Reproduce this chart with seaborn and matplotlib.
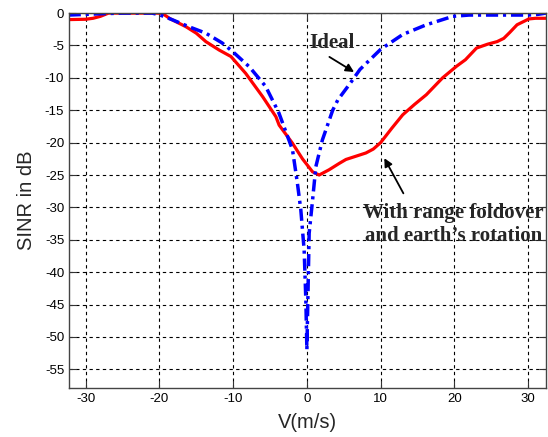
import matplotlib
matplotlib.use("Agg")
import matplotlib.pyplot as plt
import seaborn as sns
import pandas as pd

# Velocity axis (m/s) and SINR (dB) for the ideal case
ideal_v = [-32.3, -30, -28, -25, -21, -20, -18.3, -16, -13.7, -11.5, -10.1,
           -7.8, -5.6, -3.8, -1.95, -1.28, -0.82, -0.37, -0.14, 0, 0.31, 0.77,
           1.22, 2.1, 3.5, 4.2, 5.9, 7.2, 10, 13, 16.2, 19.8, 22, 25, 28, 30,
           31.3, 32.4]
ideal_db = [-0.3, -0.2, -0.1, 0, 0, -0.26, -1, -2.1, -3.1, -4.6, -5.9, -8.3,
            -11.3, -15.4, -21.1, -26.3, -30.4, -36.6, -44.3, -52, -34, -28.9,
            -23.7, -19.6, -15, -13.4, -10.8, -8.7, -5.6, -3.3, -1.8, -0.5,
            -0.3, -0.3, -0.3, -0.3, -0.2, 0]

# SINR (dB) with range foldover and earth's rotation
fold_v = [-32.3, -30, -29, -28, -26.9, -24, -20, -19.6, -18.5, -16.4, -15,
          -13.7, -11.9, -10.3, -8.3, -6, -4.2, -3.76, -1.95, -0.6, 0.76, 1.67,
          3.0, 4.4, 5.3, 8, 9, 10, 11.5, 13, 14.6, 16.2, 18.4, 20.3, 21.5, 23,
          24.5, 25.8, 26.7, 27.5, 28.5, 30.1, 31, 32.4]
fold_db = [-1, -0.95, -0.8, -0.5, 0, 0, 0, -0.05, -0.9, -2.1, -3.1, -4.4,
           -5.7, -6.7, -9.3, -12.9, -16, -17.3, -20.1, -22.5, -24.5, -25,
           -24.2, -23.2, -22.6, -21.6, -21, -20, -17.8, -15.7, -14.1, -12.6,
           -10, -8.2, -7.2, -5.4, -4.8, -4.4, -3.9, -3, -1.8, -0.9, -0.8,
           -0.8]

x_ticks = [-30, -20, -10, 0, 10, 20, 30]
y_ticks = [0, -5, -10, -15, -20, -25, -30, -35, -40, -45, -50, -55]

sns.set_style("ticks")
plt.rcParams["font.family"] = ["Liberation Sans", "DejaVu Sans"]

fig = plt.figure(figsize=(5.48, 4.37), dpi=100)
ax = fig.add_axes([0.126, 0.112, 0.870, 0.858])

df_ideal = pd.DataFrame({"V": ideal_v, "SINR": ideal_db})
df_fold = pd.DataFrame({"V": fold_v, "SINR": fold_db})

sns.lineplot(data=df_fold, x="V", y="SINR", ax=ax, color="#ff0000",
             lw=2.3, sort=False, estimator=None)
sns.lineplot(data=df_ideal, x="V", y="SINR", ax=ax, color="#0000ff",
             lw=2.5, sort=False, estimator=None,
             linestyle=(0, (3.5, 1.4, 0.9, 1.4)))

ax.set_xlim(-32.25, 32.4)
ax.set_ylim(-57.9, 0)
ax.set_xticks(x_ticks)
ax.set_yticks(y_ticks)
ax.set_xticklabels([str(t) for t in x_ticks])
ax.set_yticklabels([str(t) for t in y_ticks])
ax.tick_params(direction="in", length=5, width=0.8, labelsize=9.5,
               top=True, right=True, colors="#333333", labelcolor="black")
ax.grid(True, color="black", linestyle=(0, (3, 3)), linewidth=0.8)
for s in ax.spines.values():
    s.set_color("#444444")
    s.set_linewidth(1.0)
ax.set_xlabel("V(m/s)", fontsize=14.5, labelpad=6)
ax.set_ylabel("SINR in dB", fontsize=14.5, labelpad=6)

serif = ["Liberation Serif", "DejaVu Serif"]
ax.annotate("Ideal", xy=(6.4, -9.1), xytext=(3.4, -4.6),
            fontsize=15, fontweight="bold", family=serif,
            ha="center", va="center",
            arrowprops=dict(arrowstyle="-|>", color="black", lw=1.3,
                            mutation_scale=12, shrinkA=1, shrinkB=0,
                            relpos=(0.3, 0.0)))
ax.annotate("With range foldover\nand earth\u2019s rotation",
            xy=(10.5, -22.4), xytext=(19.9, -32.6),
            fontsize=15, fontweight="bold", family=serif,
            ha="center", va="center", linespacing=1.2,
            arrowprops=dict(arrowstyle="-|>", color="black", lw=1.3,
                            mutation_scale=12, shrinkA=5, shrinkB=0,
                            relpos=(0.25, 1.0)))

fig.savefig("out.png", dpi=100)
